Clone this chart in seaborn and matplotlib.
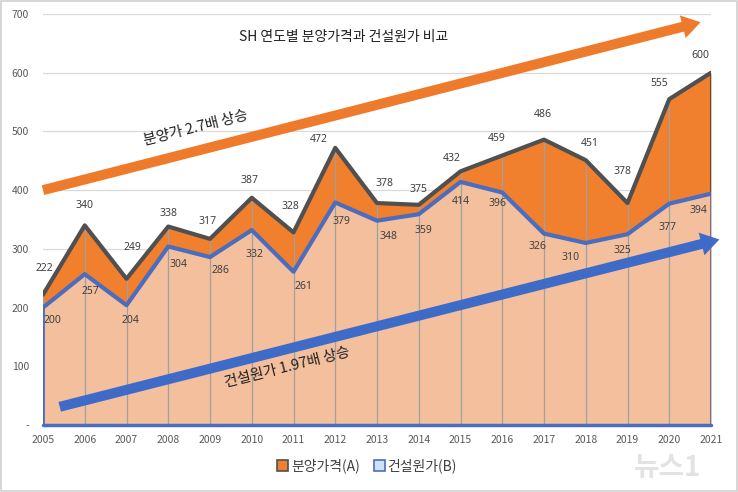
import matplotlib
matplotlib.use("Agg")
import matplotlib.pyplot as plt
import seaborn as sns
import pandas as pd
from matplotlib.patches import Rectangle, Patch

# ---- data ----
years = list(range(2005, 2022))
sale_price = [222, 340, 249, 338, 317, 387, 328, 472, 378, 375, 432, 459, 486, 451, 378, 555, 600]
build_cost = [200, 257, 204, 304, 286, 332, 261, 379, 348, 359, 414, 396, 326, 310, 325, 377, 394]
ytick_vals = [0, 100, 200, 300, 400, 500, 600, 700]
ytick_labels = ["-", "100", "200", "300", "400", "500", "600", "700"]
title = "SH 연도별 분양가격과 건설원가 비교"
series_names = ["분양가격(A)", "건설원가(B)"]
note_a = "분양가 2.7배 상승"
note_b = "건설원가 1.97배 상승"

# label offsets (pixels) - styling only
off_a = [(1, 26), (0, 20), (6, 31), (0, 13), (-2, 17), (-2, 17), (-3, 26), (-17, 8), (7, 20),
         (0, 15), (-9, 13), (-6, 17), (-1, 25), (4, 17), (-5, 32), (-10, 16), (-11, 17)]
off_b = [(9, -13), (6, -17), (4, -15), (10, -18), (10, -13), (3, -24), (10, -15), (6, -19), (11, -16),
         (5, -16), (0, -20), (-5, -11), (-7, -13), (-15, -15), (-5, -16), (-2, -24), (-13, -17)]

df = pd.DataFrame({"year": years, "A": sale_price, "B": build_cost})

sns.set_theme(style="white")
plt.rcParams["font.family"] = ["Noto Sans CJK KR", "DejaVu Sans"]

ORANGE = "#F07F2E"
SALMON = "#F3BF9C"
DARK = "#505050"
BLUE = "#4A6DBF"

fig = plt.figure(figsize=(7.38, 4.92), dpi=100)
ax = fig.add_axes([43 / 738, 1 - 425 / 492, (711 - 43) / 738, (425 - 14) / 492])

ax.set_xlim(2005, 2021)
ax.set_ylim(0, 700)

# gridlines
for v in ytick_vals[1:]:
    ax.axhline(v, color="#D9D9D9", lw=0.9, zorder=0)

# areas
ax.fill_between(df["year"], 0, df["A"], color=ORANGE, lw=0, zorder=1)
ax.fill_between(df["year"], 0, df["B"], color=SALMON, lw=0, zorder=2)

# drop lines
ax.vlines(df["year"], 0, df["A"], color="#A0A0A0", lw=0.9, zorder=3)

# lines
sns.lineplot(data=df, x="year", y="A", ax=ax, color=DARK, lw=3, zorder=5, legend=False)
sns.lineplot(data=df, x="year", y="B", ax=ax, color=BLUE, lw=3, zorder=6, legend=False)
# area borders of B
ax.plot([years[0], years[0]], [0, build_cost[0]], color=BLUE, lw=2, zorder=6, solid_capstyle="butt")
ax.plot([years[-1], years[-1]], [0, build_cost[-1]], color=BLUE, lw=2, zorder=6, solid_capstyle="butt")
ax.plot([years[0], years[-1]], [0, 0], color=BLUE, lw=2.5, zorder=6, clip_on=False)
ax.plot([years[-1], years[-1]], [build_cost[-1], sale_price[-1]], color=DARK, lw=1.5, zorder=5)

# data labels
for x, y, (dx, dy) in zip(years, sale_price, off_a):
    ax.annotate(str(y), (x, y), xytext=(dx * 0.72, dy * 0.72), textcoords="offset points",
                ha="center", va="center", fontsize=7.5, color="#404040", zorder=8,
                family=["Noto Sans", "DejaVu Sans"])
for x, y, (dx, dy) in zip(years, build_cost, off_b):
    ax.annotate(str(y), (x, y), xytext=(dx * 0.72, dy * 0.72), textcoords="offset points",
                ha="center", va="center", fontsize=7.5, color="#404040", zorder=8,
                family=["Noto Sans", "DejaVu Sans"])

# trend arrows
ax.annotate("", xy=(2020.75, 686), xytext=(2005, 400), xycoords="data",
            arrowprops=dict(arrowstyle="simple,head_length=1.1,head_width=1.4,tail_width=0.6",
                            mutation_scale=12, color="#EE7A2C", lw=0, shrinkA=0, shrinkB=0),
            zorder=9, annotation_clip=False)
ax.annotate("", xy=(2021.2, 316), xytext=(2005.4, 31), xycoords="data",
            arrowprops=dict(arrowstyle="simple,head_length=1.1,head_width=1.4,tail_width=0.6",
                            mutation_scale=12, color="#3F6BC8", lw=0, shrinkA=0, shrinkB=0),
            zorder=9, annotation_clip=False)

ax.text(2008.66, 506, note_a, rotation=14, ha="center", va="center", fontsize=10.5,
        color="#202020", zorder=10, rotation_mode="anchor")
ax.text(2010.84, 97, note_b, rotation=14, ha="center", va="center", fontsize=10.5,
        color="#202020", zorder=10, rotation_mode="anchor")
ax.text(2012.2, 661, title, ha="center", va="center", fontsize=10, color="#202020", zorder=10)

# axes styling
ax.set_xticks(years)
ax.set_xticklabels([str(y) for y in years])
ax.set_yticks(ytick_vals)
ax.set_yticklabels(ytick_labels)
ax.tick_params(axis="both", length=0, labelsize=7.5, labelcolor="#595959")
ax.tick_params(axis="y", pad=10)
ax.tick_params(axis="x", pad=7)
ax.set_xlabel("")
ax.set_ylabel("")
for s in ax.spines.values():
    s.set_visible(False)

# legend
handles = [Patch(facecolor=ORANGE, edgecolor=DARK, lw=1.2),
           Patch(facecolor="#CFE2F3", edgecolor=BLUE, lw=1.2)]
fig.legend(handles, series_names, loc="center", bbox_to_anchor=(367 / 738, 1 - 466 / 492),
           ncol=2, frameon=False, fontsize=10, handlelength=0.8, handleheight=0.8,
           handletextpad=0.2, columnspacing=1.0, labelcolor="#404040")

# watermark
fig.text(668 / 738, 1 - 468 / 492, "뉴스1", fontsize=20, color="#C8C8C8", alpha=0.5,
         ha="center", va="center", style="italic", fontweight="bold")

# outer border
fig.patches.append(Rectangle((0.002, 0.003), 0.996, 0.994, transform=fig.transFigure,
                             fill=False, edgecolor="#D0D0D0", lw=1.2))

fig.savefig("out.png", dpi=100)
